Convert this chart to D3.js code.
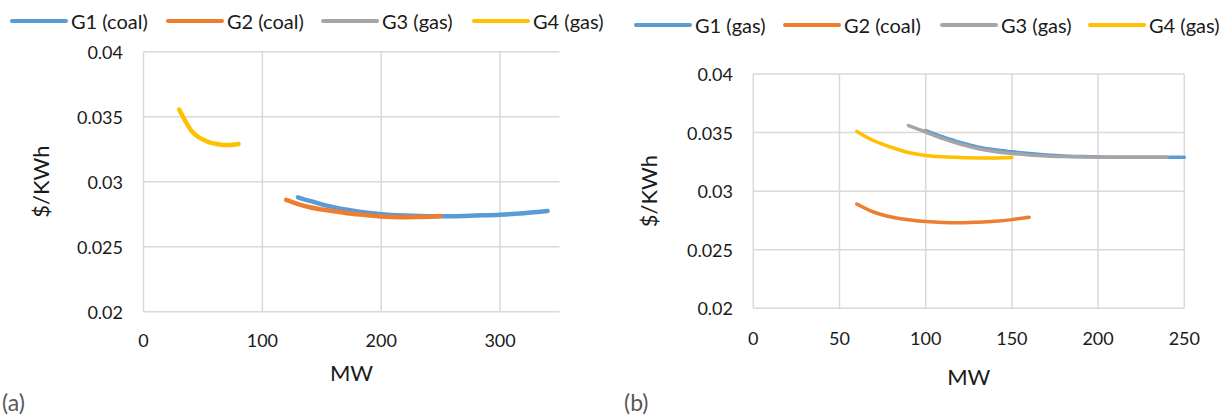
<!DOCTYPE html>
<html><head><meta charset="utf-8">
<script src="https://cdn.jsdelivr.net/npm/d3@7"></script>
<style>
body{margin:0;background:#fff;}
text{font-family:Lato,'Open Sans',sans-serif;}
</style>
</head><body>
<svg id="chart" width="1220" height="416"></svg>
<script>
// ---------- data ----------
const seriesNamesA = ["G1 (coal)", "G2 (coal)", "G3 (gas)", "G4 (gas)"];
const seriesNamesB = ["G1 (gas)", "G2 (coal)", "G3 (gas)", "G4 (gas)"];
const seriesColors = ["#5B9BD5", "#ED7D31", "#A5A5A5", "#FFC000"];
const yTickValues = [0.02, 0.025, 0.03, 0.035, 0.04];
const yTickLabels = ["0.02", "0.025", "0.03", "0.035", "0.04"];
const xTickValuesA = [0, 100, 200, 300];
const xTickValuesB = [0, 50, 100, 150, 200, 250];

// chart (a)
const aG1_mw   = [130, 140, 150, 160, 170, 180, 190, 200, 220, 240, 260, 280, 300, 320, 340];
const aG1_cost = [0.0288, 0.02852, 0.02826, 0.02804, 0.02786, 0.02771, 0.02759, 0.0275, 0.0274, 0.02735, 0.02735, 0.0274, 0.02746, 0.02758, 0.02775];
const aG2_mw   = [120, 130, 140, 150, 160, 170, 180, 190, 200, 210, 220, 230, 240, 250];
const aG2_cost = [0.0286, 0.02828, 0.02803, 0.02786, 0.02772, 0.0276, 0.02749, 0.0274, 0.02733, 0.02729, 0.02727, 0.02728, 0.0273, 0.02737];
const aG3_mw   = [];
const aG3_cost = [];
const aG4_mw   = [30, 35, 40, 45, 50, 55, 60, 65, 70, 75, 80];
const aG4_cost = [0.03555, 0.0347, 0.03395, 0.03352, 0.03325, 0.03305, 0.03293, 0.03285, 0.03282, 0.03284, 0.0329];

// chart (b)
const bG1_mw   = [100, 110, 120, 130, 140, 150, 160, 170, 180, 190, 200, 210, 220, 230, 240, 250];
const bG1_cost = [0.03516, 0.03462, 0.03415, 0.03378, 0.03353, 0.03336, 0.03321, 0.03309, 0.033, 0.03295, 0.03292, 0.0329, 0.0329, 0.0329, 0.0329, 0.0329];
const bG2_mw   = [60, 70, 80, 90, 100, 110, 120, 130, 140, 150, 160];
const bG2_cost = [0.0289, 0.0282, 0.0278, 0.02755, 0.0274, 0.02732, 0.0273, 0.02735, 0.02743, 0.02757, 0.02777];
const bG3_mw   = [90, 100, 110, 120, 130, 140, 150, 160, 170, 180, 190, 200, 210, 220, 230, 240];
const bG3_cost = [0.03559, 0.03505, 0.03448, 0.03401, 0.03364, 0.03339, 0.03322, 0.03309, 0.033, 0.03295, 0.03292, 0.0329, 0.03289, 0.03289, 0.0329, 0.0329];
const bG4_mw   = [60, 70, 80, 90, 100, 110, 120, 130, 140, 150];
const bG4_cost = [0.0351, 0.0343, 0.03375, 0.0333, 0.03305, 0.03293, 0.03287, 0.03284, 0.03284, 0.03288];

const zip = (xs, ys) => xs.map((x, i) => ({x: x, y: ys[i]}));
const seriesA = [zip(aG1_mw, aG1_cost), zip(aG2_mw, aG2_cost), zip(aG3_mw, aG3_cost), zip(aG4_mw, aG4_cost)];
const seriesB = [zip(bG1_mw, bG1_cost), zip(bG2_mw, bG2_cost), zip(bG3_mw, bG3_cost), zip(bG4_mw, bG4_cost)];

// ---------- drawing ----------
const svg = d3.select("#chart");
const textColor = "#1a1a1a";
const gridColor = "#D9D9D9";

function drawPanel(cfg) {
  const g = svg.append("g");
  const x = d3.scaleLinear().domain(cfg.xDomain).range(cfg.xRange);
  const y = d3.scaleLinear().domain([0.02, 0.04]).range(cfg.yRange);

  g.selectAll(".hg").data(yTickValues).enter().append("line")
    .attr("x1", x(cfg.xDomain[0])).attr("x2", x(cfg.xDomain[1]))
    .attr("y1", d => y(d)).attr("y2", d => y(d))
    .attr("stroke", gridColor).attr("stroke-width", 1.5);
  g.selectAll(".vg").data(cfg.xTicks).enter().append("line")
    .attr("x1", d => x(d)).attr("x2", d => x(d))
    .attr("y1", y(0.02)).attr("y2", y(0.04))
    .attr("stroke", gridColor).attr("stroke-width", 1.5);

  g.selectAll(".yl").data(yTickValues).enter().append("text")
    .attr("x", cfg.yLabelX).attr("y", d => y(d))
    .attr("text-anchor", "end").attr("dominant-baseline", "central")
    .attr("font-size", 18).attr("fill", textColor)
    .text((d, i) => yTickLabels[i]);
  g.selectAll(".xl").data(cfg.xTicks).enter().append("text")
    .attr("x", d => x(d)).attr("y", cfg.xLabelY)
    .attr("text-anchor", "middle").attr("dominant-baseline", "central")
    .attr("font-size", 18).attr("fill", textColor)
    .text(d => String(d));

  g.append("text")
    .attr("x", (cfg.xRange[0] + cfg.xRange[1]) / 2).attr("y", cfg.xTitleY)
    .attr("text-anchor", "middle").attr("dominant-baseline", "central")
    .attr("font-size", 22).attr("fill", textColor).text("MW");
  g.append("text")
    .attr("transform", `translate(${cfg.yTitleX},${(cfg.yRange[0] + cfg.yRange[1]) / 2}) rotate(-90)`)
    .attr("text-anchor", "middle").attr("dominant-baseline", "central")
    .attr("font-size", 22).attr("fill", textColor).text("$/KWh");

  const line = d3.line().x(d => x(d.x)).y(d => y(d.y)).curve(d3.curveMonotoneX);
  cfg.series.forEach((s, i) => {
    if (!s.length) return;
    g.append("path").datum(s)
      .attr("d", line)
      .attr("fill", "none")
      .attr("stroke", seriesColors[i])
      .attr("stroke-width", cfg.lineWidth)
      .attr("stroke-linecap", "round")
      .attr("stroke-linejoin", "round");
  });

  cfg.names.forEach((n, i) => {
    const lx = cfg.legendX[i];
    g.append("line")
      .attr("x1", lx).attr("x2", lx + 54)
      .attr("y1", cfg.legendY).attr("y2", cfg.legendY)
      .attr("stroke", seriesColors[i]).attr("stroke-width", 4)
      .attr("stroke-linecap", "round");
    g.append("text")
      .attr("x", lx + 59).attr("y", cfg.legendY)
      .attr("dominant-baseline", "central")
      .attr("font-size", 20).attr("fill", textColor).text(n);
  });

  g.append("text")
    .attr("x", cfg.panelLabelX).attr("y", 402)
    .attr("dominant-baseline", "central")
    .attr("font-size", 23).attr("fill", "#595959").text(cfg.panelLabel);
}

drawPanel({
  xDomain: [0, 350], xRange: [143.5, 559.5], yRange: [311.7, 51.7],
  xTicks: xTickValuesA, series: seriesA, names: seriesNamesA,
  yLabelX: 123, xLabelY: 340, xTitleY: 372, yTitleX: 40,
  legendX: [12, 168, 323, 474], legendY: 21, lineWidth: 4.5,
  panelLabel: "(a)", panelLabelX: 2
});
drawPanel({
  xDomain: [0, 250], xRange: [753.3, 1184.3], yRange: [308.3, 74],
  xTicks: xTickValuesB, series: seriesB, names: seriesNamesB,
  yLabelX: 733, xLabelY: 338, xTitleY: 376, yTitleX: 648,
  legendX: [636, 785, 942, 1090], legendY: 25, lineWidth: 3.5,
  panelLabel: "(b)", panelLabelX: 624
});
</script>
</body></html>
